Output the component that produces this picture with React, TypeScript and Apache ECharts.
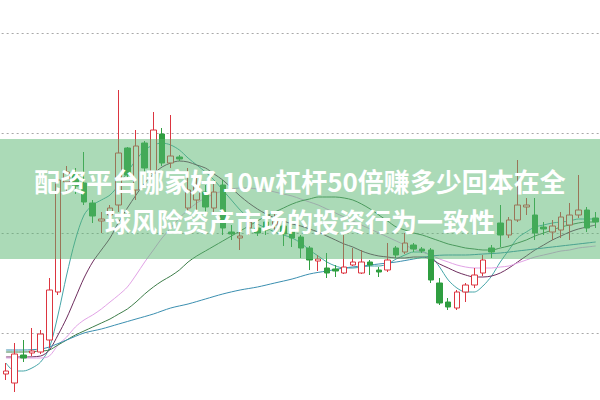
import React, { useEffect, useRef } from 'react';
import * as echarts from 'echarts';

// Candles: [open, close, low, high]
const candles: number[][] = [
  [5.9, 6.2, 5.3, 7.0], [5.0, 7.9, 4.1, 9.0], [7.8, 7.5, 7.1, 9.3], [8.0, 8.2, 7.7, 10.5],
  [8.1, 9.9, 7.9, 10.3], [9.3, 14.3, 8.5, 15.5], [14.1, 25.3, 13.8, 25.5], [25.1, 26.1, 24.1, 26.7],
  [25.9, 24.7, 23.9, 26.5], [25.0, 23.1, 22.8, 28.1], [23.0, 21.7, 21.0, 23.3], [21.2, 21.4, 20.0, 22.1],
  [21.8, 22.5, 20.8, 22.8], [22.8, 28.0, 22.1, 34.3], [28.5, 25.8, 25.3, 28.6], [24.3, 28.7, 23.3, 30.3],
  [29.0, 26.5, 26.1, 29.2], [26.0, 30.3, 24.3, 32.1], [29.9, 27.0, 26.7, 30.5], [27.0, 27.7, 26.5, 31.8],
  [27.6, 27.4, 27.2, 27.8], [22.5, 24.3, 22.0, 26.5], [23.3, 24.8, 22.3, 25.8], [24.1, 22.6, 22.1, 24.8],
  [22.5, 24.1, 21.8, 25.1], [24.8, 20.5, 19.8, 25.3], [20.1, 19.9, 19.3, 20.8], [19.5, 19.7, 18.3, 20.5],
  [20.5, 21.1, 19.8, 21.8], [20.5, 20.0, 19.7, 20.9], [21.1, 20.3, 19.8, 21.8], [20.8, 21.3, 20.1, 22.1],
  [20.7, 19.9, 18.7, 21.3], [20.2, 19.5, 18.6, 20.5], [19.6, 18.5, 17.5, 19.8], [18.5, 17.3, 16.3, 18.7],
  [17.2, 17.4, 16.2, 17.8], [16.5, 16.0, 15.5, 18.0], [16.4, 16.2, 15.6, 16.8], [16.0, 16.6, 15.9, 19.8],
  [16.8, 17.1, 16.7, 18.5], [16.0, 17.1, 15.9, 18.3], [17.1, 16.8, 15.8, 17.3], [16.3, 16.1, 15.6, 16.6],
  [16.3, 17.3, 16.1, 19.0], [18.5, 17.8, 17.5, 18.7], [18.1, 19.0, 17.9, 20.0], [18.8, 18.4, 18.1, 19.0],
  [18.4, 18.2, 18.0, 18.6], [18.3, 15.3, 15.0, 18.5], [15.0, 13.0, 12.8, 15.5], [13.1, 12.6, 12.3, 13.5],
  [12.5, 14.1, 12.3, 14.3], [14.1, 14.8, 13.1, 15.0], [14.8, 15.8, 14.5, 16.5], [16.0, 17.3, 15.7, 17.8],
  [18.5, 18.1, 17.5, 18.8], [21.0, 19.8, 18.6, 22.8], [19.8, 21.3, 19.5, 21.6], [21.3, 22.8, 21.1, 27.3],
  [22.6, 22.8, 21.8, 23.5], [21.8, 20.0, 19.3, 23.5], [20.6, 20.4, 19.8, 21.1], [20.1, 20.7, 19.3, 21.3],
  [20.3, 21.6, 19.5, 22.1], [20.8, 21.8, 19.3, 23.0], [21.8, 22.3, 21.5, 25.8], [22.3, 20.5, 20.1, 22.6],
  [21.5, 21.1, 20.5, 22.1],
];

const categories: string[] = candles.map((_, i) => `D${i + 1}`);

// Moving-average lines: [candle index, value]
const ma5: number[][] = [
  [0, 7.0], [1, 6.2], [2, 6.2], [3, 6.5], [4, 7.1], [5, 8.5], [6, 11.8], [7, 15.8], [8, 19.3], [9, 21.8],
  [10, 22.8], [11, 23.3], [12, 23.8], [13, 24.8], [14, 26.1], [15, 27.3], [16, 28.3], [17, 28.8], [18, 29.0],
  [19, 28.8], [20, 28.3], [21, 27.5], [22, 26.8], [23, 26.1], [24, 25.3], [25, 24.3], [26, 23.3], [27, 22.3],
  [28, 21.5], [29, 20.9], [30, 20.5], [31, 20.1], [32, 19.8], [33, 19.5], [34, 19.0], [35, 18.3], [36, 17.7],
  [37, 17.1], [38, 16.7], [39, 16.5], [40, 16.5], [41, 16.6], [42, 16.7], [43, 16.7], [44, 16.9], [45, 17.4],
  [46, 17.8], [47, 18.1], [48, 18.1], [49, 17.7], [50, 16.6], [51, 15.3], [52, 14.5], [53, 14.1], [54, 14.1],
  [55, 14.7], [56, 15.7], [57, 17.1], [58, 18.3], [59, 19.5], [60, 20.1], [61, 20.6], [62, 20.8], [63, 21.0],
  [64, 21.1], [65, 21.2], [66, 21.4], [67, 21.4], [68, 21.4],
];
const ma10: number[][] = [
  [0, 7.6], [2, 7.6], [4, 7.7], [5, 8.3], [6, 9.8], [7, 11.5], [8, 13.5], [9, 15.5], [10, 17.1], [11, 18.3],
  [12, 19.5], [13, 21.1], [14, 22.5], [15, 23.8], [16, 25.0], [17, 25.9], [18, 26.6], [19, 27.0], [20, 27.2],
  [21, 27.1], [22, 26.8], [23, 26.5], [24, 25.9], [25, 25.3], [26, 24.5], [27, 23.7], [28, 23.0], [29, 22.4],
  [30, 21.9], [31, 21.5], [32, 21.2], [33, 20.9], [34, 20.7], [35, 20.4], [36, 20.1], [37, 19.7], [38, 19.3],
  [39, 18.9], [40, 18.6], [41, 18.2], [42, 17.9], [43, 17.7], [44, 17.6], [45, 17.5], [46, 17.5], [47, 17.6],
  [48, 17.6], [49, 17.4], [50, 16.9], [51, 16.5], [52, 16.1], [53, 15.8], [54, 15.6], [55, 15.6], [56, 15.7],
  [57, 16.0], [58, 16.5], [59, 17.1], [60, 17.7], [61, 18.3], [62, 18.8], [63, 19.3], [64, 19.7], [65, 20.1],
  [66, 20.4], [67, 20.6], [68, 20.8],
];
const ma20: number[][] = [
  [0, 7.5], [2, 7.5], [4, 7.5], [5, 7.7], [6, 8.8], [7, 9.6], [8, 10.6], [9, 11.3], [10, 11.8], [11, 12.4],
  [12, 13.1], [13, 13.8], [14, 14.6], [15, 15.8], [16, 17.1], [17, 18.3], [18, 19.5], [19, 20.5], [20, 21.5],
  [21, 22.3], [22, 23.0], [23, 23.5], [24, 23.9], [25, 24.2], [26, 24.4], [27, 24.5], [28, 24.5], [29, 24.4],
  [30, 24.3], [31, 24.1], [32, 23.9], [33, 23.7], [34, 23.4], [35, 23.1], [36, 22.8], [37, 22.4], [38, 22.0],
  [39, 21.6], [40, 21.2], [41, 20.8], [42, 20.4], [43, 20.0], [44, 19.6], [45, 19.2], [46, 18.8], [47, 18.4],
  [48, 18.1], [49, 17.8], [50, 17.4], [51, 17.1], [52, 16.8], [53, 16.6], [54, 16.5], [55, 16.5], [56, 16.5],
  [57, 16.6], [58, 16.7], [59, 17.0], [60, 17.3], [61, 17.6], [62, 17.8], [63, 18.0], [64, 18.2], [65, 18.3],
  [66, 18.5], [67, 18.6], [68, 18.7],
];
const ma30: number[][] = [
  [0, 8.1], [2, 8.1], [4, 8.2], [5, 8.3], [6, 8.8], [7, 9.3], [8, 9.8], [9, 10.2], [10, 10.6], [11, 11.0],
  [12, 11.4], [13, 11.9], [14, 12.4], [15, 13.1], [16, 13.9], [17, 14.6], [18, 15.2], [19, 15.7], [20, 16.3],
  [21, 17.1], [22, 17.7], [23, 18.2], [24, 18.7], [25, 19.2], [26, 19.7], [27, 20.2], [28, 20.7], [29, 21.2],
  [30, 21.7], [31, 22.1], [32, 22.5], [33, 22.9], [34, 23.2], [35, 23.4], [36, 23.6], [37, 23.6], [38, 23.6],
  [39, 23.5], [40, 23.3], [41, 22.9], [42, 22.4], [43, 21.8], [44, 21.2], [45, 20.6], [46, 20.3], [47, 20.0],
  [48, 19.8], [49, 19.5], [50, 19.2], [51, 18.9], [52, 18.7], [53, 18.5], [54, 18.4], [55, 18.3], [56, 18.3],
  [57, 18.5], [58, 18.7], [59, 19.0], [60, 19.3], [61, 19.7], [62, 20.0], [63, 20.3], [64, 20.6], [65, 20.8],
  [66, 21.0], [67, 21.1], [68, 21.1],
];
const ma60: number[][] = [
  [0, 8.3], [2, 8.3], [4, 8.4], [5, 8.6], [7, 9.3], [9, 10.0], [11, 10.4], [13, 10.9], [15, 11.4], [17, 11.9],
  [19, 12.5], [21, 12.9], [23, 13.4], [25, 13.9], [27, 14.3], [29, 14.6], [31, 15.0], [33, 15.4], [35, 15.9],
  [37, 16.2], [39, 16.5], [41, 16.7], [43, 16.9], [45, 17.1], [47, 17.4], [49, 17.7], [51, 17.8], [53, 17.8],
  [55, 17.9], [57, 18.0], [59, 18.2], [61, 18.4], [63, 18.6], [65, 18.8], [67, 19.0], [68, 19.1],
];

const titleLine1 = '配资平台哪家好 10w杠杆50倍赚多少回本在全';
const titleLine2 = '球风险资产市场的投资行为一致性';

const maSeries = [
  { name: 'MA5', data: ma5, color: '#45a5a8' },
  { name: 'MA10', data: ma10, color: '#6e2d5e' },
  { name: 'MA20', data: ma20, color: '#e2a2e6' },
  { name: 'MA30', data: ma30, color: '#3e7e4a' },
  { name: 'MA60', data: ma60, color: '#3b8fb0' },
];

export default function App() {
  const ref = useRef<HTMLDivElement>(null);
  useEffect(() => {
    document.body.style.margin = '0';
    const chart = echarts.init(ref.current!, undefined, { renderer: 'svg' });
    chart.setOption({
      animation: false,
      backgroundColor: '#ffffff',
      grid: { left: 1.625, top: 33, width: 603.75, height: 300 },
      xAxis: {
        type: 'category',
        data: categories,
        boundaryGap: true,
        axisLine: { show: false },
        axisTick: { show: false },
        axisLabel: { show: false },
        splitLine: { show: false },
      },
      yAxis: {
        type: 'value',
        min: 10,
        max: 40,
        interval: 10,
        axisLine: { show: false },
        axisTick: { show: false },
        axisLabel: { show: false },
        splitLine: { show: true, lineStyle: { color: '#a8a8a8', type: [2, 3], width: 1 } },
      },
      series: [
        ...maSeries.map((m) => ({
          type: 'line',
          name: m.name,
          data: m.data,
          clip: false,
          showSymbol: false,
          smooth: 0.3,
          connectNulls: true,
          lineStyle: { color: m.color, width: 1 },
          z: 3,
        })),
        {
          type: 'candlestick',
          data: candles,
          clip: false,
          barWidth: 6,
          itemStyle: {
            color: '#ffffff',
            color0: '#2f9e40',
            borderColor: '#dc3540',
            borderColor0: '#2f9e40',
            borderWidth: 1,
          },
          z: 4,
        },
      ],
      graphic: [
        {
          type: 'rect',
          z: 100,
          shape: { x: 0, y: 139, width: 600, height: 120 },
          style: { fill: 'rgba(88,182,112,0.5)' },
        },
        {
          type: 'text',
          z: 101,
          x: 300,
          y: 180,
          style: {
            text: titleLine1,
            fill: '#ffffff',
            font: 'bold 26px "Noto Sans CJK SC"',
            textAlign: 'center',
            textVerticalAlign: 'middle',
          },
        },
        {
          type: 'text',
          z: 101,
          x: 300,
          y: 220,
          style: {
            text: titleLine2,
            fill: '#ffffff',
            font: 'bold 26px "Noto Sans CJK SC"',
            textAlign: 'center',
            textVerticalAlign: 'middle',
          },
        },
      ],
    });
    return () => chart.dispose();
  }, []);
  return (
    <div
      ref={ref}
      style={{ position: 'absolute', left: 0, top: 0, width: 600, height: 400, background: '#fff' }}
    />
  );
}
